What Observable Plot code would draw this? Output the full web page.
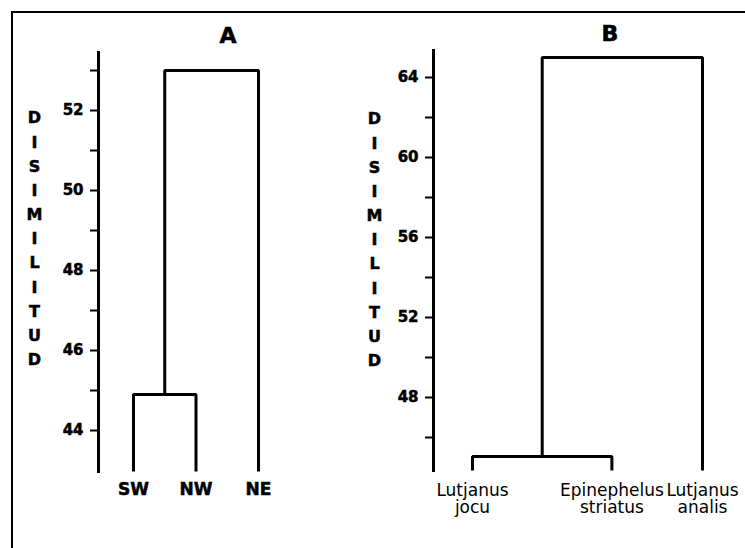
<!DOCTYPE html>
<html><head><meta charset="utf-8">
<script src="https://cdn.jsdelivr.net/npm/d3@7"></script>
<script src="https://cdn.jsdelivr.net/npm/@observablehq/plot@0.6"></script>
<style>
body{margin:0;background:#fff;}
#wrap{position:relative;width:745px;height:548px;overflow:hidden;background:#fff;font-family:"DejaVu Sans",sans-serif;color:#000;}
#border{position:absolute;left:11px;top:11px;width:760px;height:560px;border-left:2px solid #000;border-top:2px solid #000;}
.title{position:absolute;font-weight:bold;font-size:22px;line-height:22px;transform:translateX(-50%);-webkit-text-stroke:0.6px #000;}
.panel{position:absolute;top:0;}
.panel g[aria-label="y-axis tick label"] text{font-size:15px;font-weight:bold;stroke:#000;stroke-width:0.5px;}
#pa g[aria-label="x-axis tick label"] text{font-size:17px;font-weight:bold;stroke:#000;stroke-width:0.5px;}
#pb g[aria-label="x-axis tick label"] text{font-size:17px;font-weight:normal;}
.panel g[aria-label="text"] text{stroke:#000;stroke-width:0.5px;}
</style></head><body>
<div id="wrap"><div id="border"></div>
<div id="pa" class="panel" style="left:0px"></div>
<div id="pb" class="panel" style="left:350px"></div>
<div class="title" style="left:228px;top:25px">A</div>
<div class="title" style="left:610px;top:23px">B</div>
</div>
<script>
// ---- Panel A data ----
const leavesA = ["SW", "NW", "NE"];
const leafOrderA = [0, 1, 2];
const mergesA = [["SW", "NW"], ["SW+NW", "NE"]];
const mergeHeightsA = [44.9, 53.0];
const ticksA = [44, 45, 46, 47, 48, 49, 50, 51, 52, 53];
const tickLabelsA = [44, 46, 48, 50, 52];

// ---- Panel B data ----
const leavesB = ["Lutjanus\njocu", "Epinephelus\nstriatus", "Lutjanus\nanalis"];
const leafOrderB = [0, 1, 1.65];
const mergesB = [["Lutjanus\njocu", "Epinephelus\nstriatus"], ["Lutjanus\njocu+Epinephelus\nstriatus", "Lutjanus\nanalis"]];
const mergeHeightsB = [45.05, 65.0];
const ticksB = [46, 48, 50, 52, 54, 56, 58, 60, 62, 64];
const tickLabelsB = [48, 52, 56, 60, 64];

const yLabel = "DISIMILITUD";

function dendroRows(leaves, order, merges, heights, base) {
  const nodes = new Map(leaves.map((l, i) => [l, {x: order[i], h: base}]));
  const rows = [];
  merges.forEach(([a, b], k) => {
    const A = nodes.get(a), B = nodes.get(b), h = heights[k];
    rows.push({id: k, x: A.x, y: A.h}, {id: k, x: A.x, y: h}, {id: k, x: B.x, y: h}, {id: k, x: B.x, y: B.h});
    nodes.set(a + "+" + b, {x: (A.x + B.x) / 2, h});
  });
  return rows;
}

function panel(cfg) {
  const rows = dendroRows(cfg.leaves, cfg.order, cfg.merges, cfg.heights, cfg.yDomain[0]);
  return Plot.plot({
    width: cfg.width, height: 548,
    marginTop: cfg.mt, marginBottom: cfg.mb, marginLeft: cfg.ml, marginRight: 0,
    x: {domain: [cfg.order[0], cfg.order[cfg.order.length - 1]], range: cfg.xRange},
    y: {domain: cfg.yDomain},
    style: {background: "transparent", fontFamily: "DejaVu Sans", color: "#000", overflow: "visible"},
    marks: [
      Plot.frame({anchor: "left", strokeWidth: 3, stroke: "#000"}),
      Plot.axisY({ticks: cfg.ticks, tickSize: 8, tickPadding: 7, strokeWidth: 2, label: null,
        tickFormat: d => cfg.tickLabels.includes(d) ? String(d) : "",
        fontSize: 15, fontWeight: "bold"}),
      Plot.axisX({ticks: cfg.order, tickSize: 0, tickPadding: cfg.xPad, label: null,
        tickFormat: d => cfg.leaves[cfg.order.indexOf(d)],
        fontSize: 17, fontWeight: cfg.leafWeight, lineHeight: cfg.leafLH}),
      Plot.line(rows, {x: "x", y: "y", z: "id", stroke: "#000", strokeWidth: 3, strokeLinejoin: "miter", strokeLinecap: "butt"}),
      Plot.text([yLabel.split("").join("\n")], {text: d => d, frameAnchor: "left", dx: cfg.labelDx, dy: cfg.labelDy,
        textAnchor: "middle", fontSize: 16, fontWeight: "bold", lineHeight: 1.51, fill: "#000"})
    ]
  });
}

document.getElementById("pa").append(panel({
  width: 350, mt: 52, mb: 77, ml: 98, xRange: [133, 258], yDomain: [42.975, 53.45],
  leaves: leavesA, order: leafOrderA, merges: mergesA, heights: mergeHeightsA,
  ticks: ticksA, tickLabels: tickLabelsA, xPad: 11, leafWeight: "bold", leafLH: 1,
  labelDx: -64, labelDy: -25.5
}));
document.getElementById("pb").append(panel({
  width: 395, mt: 50, mb: 78, ml: 83, xRange: [122, 352], yDomain: [44.35, 65.35],
  leaves: leavesB, order: leafOrderB, merges: mergesB, heights: mergeHeightsB,
  ticks: ticksB, tickLabels: tickLabelsB, xPad: 13, leafWeight: "normal", leafLH: 1.0,
  labelDx: -59, labelDy: -23
}));
</script>
</body></html>
